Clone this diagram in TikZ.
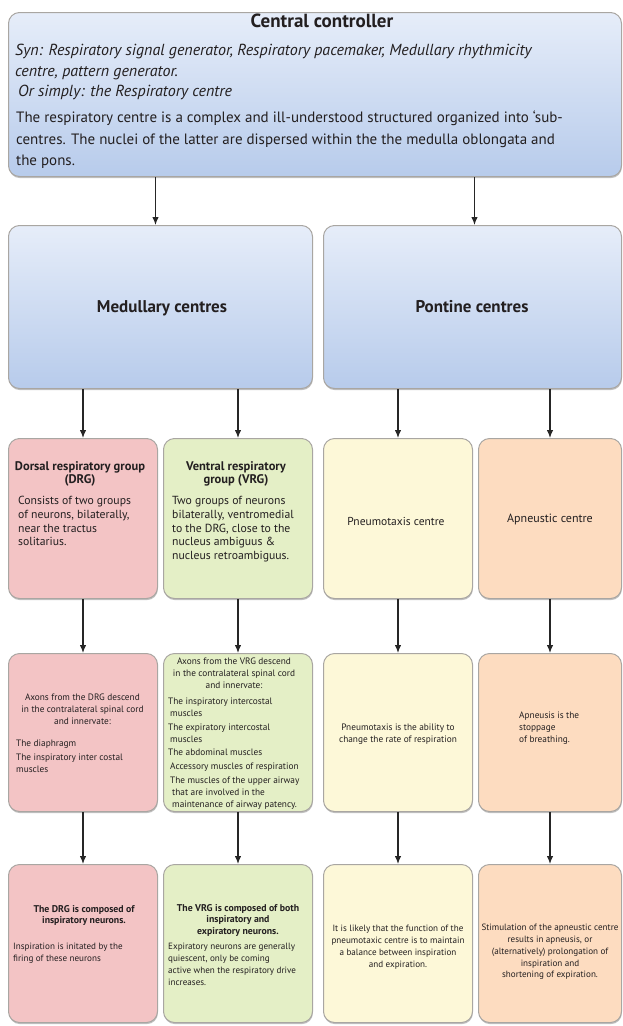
\documentclass[tikz,border=0pt]{standalone}
\usepackage{fontspec}
\setmainfont{PT Sans}
\usetikzlibrary{arrows.meta,shadows}

\definecolor{ink}{HTML}{231F20}
\definecolor{edge}{HTML}{A9A6A2}
\definecolor{bluetop}{HTML}{E6EDF9}
\definecolor{bluebot}{HTML}{B7CBEB}
\definecolor{drgfill}{HTML}{F3C4C5}
\definecolor{vrgfill}{HTML}{E4EFC6}
\definecolor{pnmfill}{HTML}{FDF8D8}
\definecolor{apnfill}{HTML}{FDDCC0}
\definecolor{arrowink}{HTML}{262626}

\tikzset{
  box/.style={rounded corners=11pt, draw=edge, line width=1pt, anchor=north west,
    inner sep=0pt, drop shadow={shadow xshift=0.4pt, shadow yshift=-1.6pt, opacity=0.35, fill=black!70}},
  bluebox/.style={box, top color=bluetop, bottom color=bluebot},
  txt/.style={inner sep=0pt, text=ink},
  arr/.style={draw=arrowink, line width=1.2pt, -{Latex[length=8pt,width=6.5pt]}},
  bodyA/.style={font=\fontsize{11.7}{13.8}\selectfont},
  headA/.style={font=\bfseries\fontsize{12.5}{13.5}\selectfont},
  bodyB/.style={font=\fontsize{9.3}{11.9}\selectfont},
  bodyC/.style={font=\fontsize{9.1}{11.8}\selectfont},
  headC/.style={font=\bfseries\fontsize{9.8}{11.7}\selectfont},
}

\begin{document}
\begin{tikzpicture}[x=1pt,y=-1pt]
\useasboundingbox (0,0) rectangle (623,1026);

% ---- boxes ----
\node[bluebox, minimum width=613pt, minimum height=164pt] (top) at (8,12) {};
\node[bluebox, minimum width=304pt, minimum height=163pt] (med) at (8,225) {};
\node[bluebox, minimum width=298pt, minimum height=163pt] (pon) at (323,225) {};

\node[box, fill=drgfill, minimum width=149pt, minimum height=160pt] (drgA) at (8,438) {};
\node[box, fill=vrgfill, minimum width=149pt, minimum height=160pt] (vrgA) at (163,438) {};
\node[box, fill=pnmfill, minimum width=149pt, minimum height=160pt] (pnmA) at (323,438) {};
\node[box, fill=apnfill, minimum width=143pt, minimum height=160pt] (apnA) at (478,438) {};

\node[box, fill=drgfill, minimum width=149pt, minimum height=158pt] (drgB) at (8,653) {};
\node[box, fill=vrgfill, minimum width=149pt, minimum height=158pt] (vrgB) at (163,653) {};
\node[box, fill=pnmfill, minimum width=149pt, minimum height=158pt] (pnmB) at (323,653) {};
\node[box, fill=apnfill, minimum width=143pt, minimum height=158pt] (apnB) at (478,653) {};

\node[box, fill=drgfill, minimum width=149pt, minimum height=158pt] (drgC) at (8,864) {};
\node[box, fill=vrgfill, minimum width=149pt, minimum height=158pt] (vrgC) at (163,864) {};
\node[box, fill=pnmfill, minimum width=149pt, minimum height=158pt] (pnmC) at (323,864) {};
\node[box, fill=apnfill, minimum width=143pt, minimum height=158pt] (apnC) at (478,864) {};

% ---- connectors ----
\draw[arr] ([xshift=-5pt]top.south -| med.north) -- ([xshift=-5pt]med.north);
\draw[arr] ([xshift=2pt]top.south -| pon.north) -- ([xshift=2pt]pon.north);
\draw[arr] (med.south -| drgA.north) -- (drgA.north);
\draw[arr] (med.south -| vrgA.north) -- (vrgA.north);
\draw[arr] (pon.south -| pnmA.north) -- (pnmA.north);
\draw[arr] (pon.south -| apnA.north) -- (apnA.north);
\foreach \a/\b in {drgA/drgB, vrgA/vrgB, pnmA/pnmB, apnA/apnB,
                   drgB/drgC, vrgB/vrgC, pnmB/pnmC, apnB/apnC}
  \draw[arr] (\a.south) -- (\b.north);

% ---- central controller ----
\node[txt, anchor=mid, font=\bfseries\fontsize{19}{22}\selectfont] (ttl) at (322,25) {Central controller};
\node[txt, anchor=north west, align=left, font=\itshape\fontsize{16}{20.5}\selectfont] (syn) at (15,44)
  {Syn: Respiratory signal generator, Respiratory pacemaker, Medullary rhythmicity\\
   centre, pattern generator.};
\node[txt, anchor=mid west, font=\itshape\fontsize{16}{20}\selectfont] (simply) at (18,94)
  {Or simply: the Respiratory centre};
\node[txt, anchor=north west, align=left, font=\fontsize{15}{21.5}\selectfont] (about) at (16,111)
  {The respiratory centre is a complex and ill-understood structured organized into ‘sub-\\
   centres. The nuclei of the latter are dispersed within the the medulla oblongata and\\
   the pons.};

% ---- second row ----
\node[txt, anchor=mid, font=\bfseries\fontsize{17}{20}\selectfont] (medt) at (162,310) {Medullary centres};
\node[txt, anchor=mid, font=\bfseries\fontsize{17}{20}\selectfont] (pont) at (472,310) {Pontine centres};

% ---- third row ----
\node[txt, anchor=north, align=center, headA] (drgAh) at (80,461)
  {Dorsal respiratory group\\(DRG)};
\node[txt, anchor=north west, align=left, bodyA] (drgAb) at (18,496)
  {Consists of two groups\\of neurons, bilaterally,\\near the tractus\\solitarius.};
\node[txt, anchor=north, align=center, headA] (vrgAh) at (236,461)
  {Ventral respiratory\\group (VRG)};
\node[txt, anchor=north west, align=left, bodyA] (vrgAb) at (172,496)
  {Two groups of neurons\\bilaterally, ventromedial\\to the DRG, close to the\\nucleus ambiguus \&\\nucleus retroambiguus.};
\node[txt, anchor=mid, font=\fontsize{11.5}{13}\selectfont] (pnmAt) at (396,523) {Pneumotaxis centre};
\node[txt, anchor=mid, font=\fontsize{12}{13}\selectfont] (apnAt) at (550,520) {Apneustic centre};

% ---- fourth row ----
\node[txt, anchor=north, align=center, bodyB] (drgBa) at (82.5,694)
  {Axons from the DRG descend\\in the contralateral spinal cord\\and innervate:};
\node[txt, anchor=north west, align=left, bodyB] (drgBb) at (16,740)
  {The diaphragm\\[1.8pt]The inspiratory inter costal\\muscles};
\node[txt, anchor=north, align=center, bodyB] (vrgBa) at (234,658)
  {Axons from the VRG descend\\in the contralateral spinal cord\\and innervate:};
\node[txt, anchor=north west, align=left, bodyB] (vrgBb) at (168,698)
  {The inspiratory intercostal\\\hspace{2pt}muscles\\[1.8pt]
   The expiratory intercostal\\\hspace{2pt}muscles\\[1.8pt]
   The abdominal muscles\\[1.8pt]
   \hspace{2pt}Accessory muscles of respiration\\[1.8pt]
   \hspace{2pt}The muscles of the upper airway\\
   \hspace{4pt}that are involved in the\\
   \hspace{4pt}maintenance of airway patency.};
\node[txt, anchor=north, align=center, bodyB] (pnmBt) at (398,724)
  {Pneumotaxis is the ability to\\change the rate of respiration};
\node[txt, anchor=north west, align=left, bodyB] (apnBt) at (519,712)
  {Apneusis is the\\stoppage\\of breathing.};

% ---- fifth row ----
\node[txt, anchor=north, align=center, headC] (drgCa) at (84,905)
  {The DRG is composed of\\inspiratory neurons.};
\node[txt, anchor=north west, align=left, bodyC] (drgCb) at (13,943)
  {Inspiration is initated by the\\firing of these neurons};
\node[txt, anchor=north, align=center, headC] (vrgCa) at (238,904)
  {The VRG is composed of both\\inspiratory and\\expiratory neurons.};
\node[txt, anchor=north west, align=left, bodyC] (vrgCb) at (168,943)
  {Expiratory neurons are generally\\quiescent, only be coming\\active when the respiratory drive\\increases.};
\node[txt, anchor=north, align=center, bodyC] (pnmCt) at (398,925)
  {It is likely that the function of the\\pneumotaxic centre is to maintain\\a balance between inspiration\\and expiration.};
\node[txt, anchor=north, align=center, bodyC] (apnCt) at (550,924)
  {Stimulation of the apneustic centre\\results in apneusis, or\\(alternatively) prolongation of\\inspiration and\\shortening of expiration.};
\end{tikzpicture}
\end{document}
